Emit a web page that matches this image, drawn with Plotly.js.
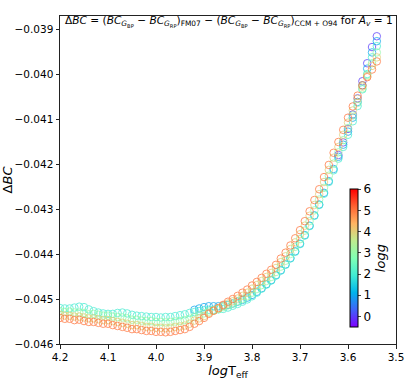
<!DOCTYPE html>
<html>
<head>
<meta charset="utf-8">
<script src="https://cdn.plot.ly/plotly-3.0.1.min.js"></script>
<style>
  html, body { margin: 0; padding: 0; background: #fff; }
  #chart { width: 411px; height: 380px; }
</style>
</head>
<body>
<div id="chart"></div>
<script>
// log Teff grid (x axis, hot to cool)
var logTeff = [4.20, 4.19, 4.18, 4.17, 4.16, 4.15, 4.14, 4.13, 4.12, 4.11,
               4.10, 4.09, 4.08, 4.07, 4.06, 4.05, 4.04, 4.03, 4.02, 4.01,
               4.00, 3.99, 3.98, 3.97, 3.96, 3.95, 3.94, 3.93, 3.92, 3.91,
               3.90, 3.89, 3.88, 3.87, 3.86, 3.85, 3.84, 3.83, 3.82, 3.81,
               3.80, 3.79, 3.78, 3.77, 3.76, 3.75, 3.74, 3.73, 3.72, 3.71,
               3.70, 3.69, 3.68, 3.67, 3.66, 3.65, 3.64, 3.63, 3.62, 3.61,
               3.60, 3.59, 3.58, 3.57, 3.56, 3.55, 3.54];

var loggValues = [0, 1, 2, 3, 4, 5];

// delta BC for each logg (null = no model at that Teff)
var dbcLogg0 = [null, null, null, null, null, null, null, null, null, null,
                null, null, null, null, null, null, null, null, null, null,
                null, null, null, null, null, null, null, null, null, null,
                null, null, null, null, null, null, null, null, null, null,
                null, null, null, null, null, null, null, null, null, null,
                null, null, null, null, null, null, null, null, -0.04180, -0.04152,
                -0.04122, -0.04090, -0.04054, -0.04016, -0.03976, -0.03940, -0.03916];

var dbcLogg1 = [null, null, null, null, null, null, null, null, null, null,
                null, null, null, null, null, null, null, null, null, null,
                null, null, null, null, null, null, null, null, -0.04524, -0.04521,
                -0.04518, -0.04516, -0.04516, -0.04516, -0.04515, -0.04513, -0.04510, -0.04506, -0.04502, -0.04497,
                -0.04491, -0.04484, -0.04476, -0.04467, -0.04458, -0.04447, -0.04436, -0.04423, -0.04409, -0.04394,
                -0.04377, -0.04358, -0.04337, -0.04314, -0.04290, -0.04264, -0.04238, -0.04211, -0.04184, -0.04157,
                -0.04128, -0.04097, -0.04062, -0.04025, -0.03988, -0.03952, -0.03927];

var dbcLogg2 = [-0.04520, -0.04521, -0.04521, -0.04519, -0.04517, -0.04518, -0.04523, -0.04527, -0.04530, -0.04532,
                -0.04533, -0.04533, -0.04531, -0.04530, -0.04532, -0.04535, -0.04537, -0.04538, -0.04539, -0.04540,
                -0.04540, -0.04541, -0.04540, -0.04540, -0.04538, -0.04536, -0.04534, -0.04531, -0.04529, -0.04527,
                -0.04525, -0.04524, -0.04524, -0.04523, -0.04522, -0.04519, -0.04515, -0.04511, -0.04506, -0.04501,
                -0.04494, -0.04486, -0.04477, -0.04468, -0.04459, -0.04448, -0.04437, -0.04424, -0.04410, -0.04395,
                -0.04378, -0.04359, -0.04338, -0.04315, -0.04291, -0.04266, -0.04240, -0.04214, -0.04188, -0.04162,
                -0.04135, -0.04105, -0.04071, -0.04034, -0.04000, -0.03963, -0.03938];

var dbcLogg3 = [-0.04527, -0.04529, -0.04528, -0.04530, -0.04530, -0.04531, -0.04534, -0.04533, -0.04535, -0.04537,
                -0.04537, -0.04539, -0.04540, -0.04541, -0.04543, -0.04546, -0.04546, -0.04548, -0.04549, -0.04549,
                -0.04551, -0.04551, -0.04552, -0.04551, -0.04550, -0.04549, -0.04547, -0.04544, -0.04540, -0.04536,
                -0.04532, -0.04528, -0.04525, -0.04522, -0.04518, -0.04514, -0.04510, -0.04505, -0.04500, -0.04494,
                -0.04486, -0.04478, -0.04469, -0.04460, -0.04451, -0.04440, -0.04428, -0.04415, -0.04400, -0.04384,
                -0.04367, -0.04348, -0.04327, -0.04303, -0.04279, -0.04253, -0.04226, -0.04199, -0.04174, -0.04147,
                -0.04120, -0.04092, -0.04064, -0.04032, -0.04002, -0.03976, -0.03952];

var dbcLogg4 = [-0.04535, -0.04537, -0.04537, -0.04539, -0.04539, -0.04541, -0.04543, -0.04543, -0.04545, -0.04547,
                -0.04547, -0.04549, -0.04551, -0.04553, -0.04555, -0.04558, -0.04558, -0.04560, -0.04562, -0.04562,
                -0.04564, -0.04564, -0.04565, -0.04564, -0.04562, -0.04561, -0.04559, -0.04555, -0.04548, -0.04543,
                -0.04538, -0.04531, -0.04526, -0.04521, -0.04515, -0.04510, -0.04505, -0.04499, -0.04493, -0.04486,
                -0.04477, -0.04469, -0.04460, -0.04451, -0.04442, -0.04431, -0.04418, -0.04405, -0.04389, -0.04374,
                -0.04356, -0.04337, -0.04315, -0.04291, -0.04267, -0.04240, -0.04213, -0.04186, -0.04162, -0.04135,
                -0.04108, -0.04081, -0.04055, -0.04028, -0.04005, -0.03982, -0.03963];

var dbcLogg5 = [-0.04542, -0.04544, -0.04544, -0.04547, -0.04546, -0.04549, -0.04551, -0.04551, -0.04553, -0.04555,
                -0.04555, -0.04558, -0.04560, -0.04562, -0.04564, -0.04567, -0.04567, -0.04569, -0.04571, -0.04571,
                -0.04573, -0.04573, -0.04574, -0.04573, -0.04571, -0.04569, -0.04567, -0.04562, -0.04555, -0.04549,
                -0.04542, -0.04533, -0.04526, -0.04520, -0.04513, -0.04506, -0.04500, -0.04493, -0.04486, -0.04479,
                -0.04470, -0.04462, -0.04453, -0.04444, -0.04435, -0.04424, -0.04410, -0.04397, -0.04381, -0.04365,
                -0.04347, -0.04327, -0.04305, -0.04280, -0.04256, -0.04229, -0.04202, -0.04175, -0.04151, -0.04124,
                -0.04097, -0.04072, -0.04048, -0.04025, -0.04007, -0.03990, -0.03972];

var allSeries = [dbcLogg0, dbcLogg1, dbcLogg2, dbcLogg3, dbcLogg4, dbcLogg5];

// matplotlib "rainbow"
var rainbow = [
  [0.0, 'rgb(128,0,255)'],
  [0.125, 'rgb(64,98,250)'],
  [0.25, 'rgb(0,180,236)'],
  [0.375, 'rgb(64,236,212)'],
  [0.5, 'rgb(128,255,180)'],
  [0.625, 'rgb(191,236,142)'],
  [0.75, 'rgb(255,180,98)'],
  [0.875, 'rgb(255,98,50)'],
  [1.0, 'rgb(255,0,0)']
];

var font = 'DejaVu Sans, sans-serif';

var traces = allSeries.map(function(ys, i) {
  return {
    x: logTeff,
    y: ys,
    type: 'scatter',
    mode: 'markers',
    showlegend: false,
    opacity: 0.75,
    marker: {
      symbol: 'circle-open',
      size: 7.5,
      line: { width: 1 },
      color: logTeff.map(function() { return loggValues[i]; }),
      colorscale: rainbow,
      cmin: -0.5,
      cmax: 6,
      showscale: i === 0,
      colorbar: {
        x: 0.834, xanchor: 'left',
        y: 0.021, yanchor: 'bottom',
        len: 0.482, lenmode: 'fraction',
        thickness: 8,
        outlinewidth: 1, outlinecolor: '#000',
        tickvals: [0, 1, 2, 3, 4, 5, 6],
        ticks: 'outside', ticklen: 3,
        tickfont: { family: font, size: 12, color: '#000' },
        title: { text: '<i>logg</i>', side: 'right', font: { family: font, size: 13, color: '#000' } }
      }
    }
  };
});

var axisLine = '#222';

var layout = {
  width: 411,
  height: 380,
  margin: { l: 60, r: 13, t: 16, b: 36 },
  paper_bgcolor: '#fff',
  plot_bgcolor: '#fff',
  xaxis: {
    range: [4.2, 3.5],
    dtick: 0.1,
    tick0: 3.5,
    tickformat: '.1f',
    showgrid: false,
    zeroline: false,
    showline: true, mirror: true,
    linecolor: axisLine, linewidth: 1,
    ticks: 'outside', ticklen: 3.5, tickcolor: axisLine,
    tickfont: { family: font, size: 10.5, color: '#000' },
    title: { text: '<i>log</i>T<sub>eff</sub>', font: { family: font, size: 13, color: '#000' }, standoff: 4 }
  },
  yaxis: {
    range: [-0.046, -0.03871],
    dtick: 0.001,
    tick0: -0.046,
    tickformat: '.3f',
    showgrid: false,
    zeroline: false,
    showline: true, mirror: true,
    linecolor: axisLine, linewidth: 1,
    ticks: 'outside', ticklen: 3.5, tickcolor: axisLine,
    tickfont: { family: font, size: 10.5, color: '#000' },
    title: { text: 'Δ<i>BC</i>', font: { family: font, size: 13, color: '#000' }, standoff: 6 }
  },
  annotations: [{
    xref: 'paper', yref: 'paper',
    x: 0.008, y: 0.982, xanchor: 'left', yanchor: 'middle',
    showarrow: false,
    font: { family: font, size: 10.6, color: '#000' },
    text: 'Δ<i>BC</i> = (<i>BC</i><sub><i>G</i><sub>BP</sub></sub> − <i>BC</i><sub><i>G</i><sub>RP</sub></sub>)<sub>FM07</sub>' +
          ' − (<i>BC</i><sub><i>G</i><sub>BP</sub></sub> − <i>BC</i><sub><i>G</i><sub>RP</sub></sub>)<sub>CCM + O94</sub>' +
          ' for <i>A<sub>v</sub></i> = 1'
  }]
};

Plotly.newPlot('chart', traces, layout, { displayModeBar: false, staticPlot: true });
</script>
</body>
</html>
